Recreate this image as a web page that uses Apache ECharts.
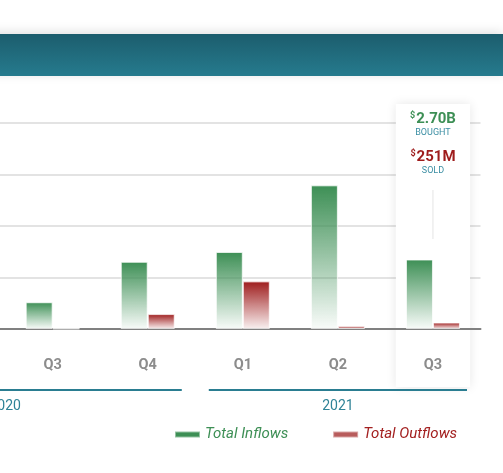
<!DOCTYPE html>
<html><head><meta charset="utf-8">
<script src="https://cdn.jsdelivr.net/npm/echarts@6/dist/echarts.min.js"></script>
<style>html,body{margin:0;padding:0;background:#fff;overflow:hidden;width:503px;height:473px;position:relative}
#c{position:absolute;left:-185px;top:0;width:688px;height:473px}</style>
</head><body><div id="c"></div>
<script>
// Data (values in $ billions); first two quarters of 2020 lie outside the visible area
const quarters = ['Q1','Q2','Q3','Q4','Q1','Q2','Q3'];
const years    = ['2020','2020','2020','2020','2021','2021','2021'];
const inflows  = [null, null, 1.04, 2.61, 2.99, 5.58, 2.70];
const outflows = [null, null, 0.02, 0.58, 1.85, 0.12, 0.251];
const yTicks = {min: 0, max: 8, interval: 2};
const seriesNames = ['Total Inflows', 'Total Outflows'];
const highlightIndex = 6;

const categories = quarters.map((q, i) => years[i] + ' ' + q);
const FONT = 'Roboto';
const GREEN = '#3d8f55', RED = '#9e1c1c', TEAL = '#2a7d91';
const SHIFT = 185; // the chart canvas starts left of the visible page

const chart = echarts.init(document.getElementById('c'), null, {renderer: 'canvas'});
chart.setOption({
  animation: false,
  textStyle: {fontFamily: FONT},
  grid: {left: 0, right: 22.5, top: 123, bottom: 144, containLabel: false},
  xAxis: {
    type: 'category', data: categories, z: 2,
    axisLine: {lineStyle: {color: '#808080', width: 2}},
    axisTick: {show: false},
    axisLabel: {margin: 29, color: '#8c8c8c', fontWeight: 'bold', fontSize: 14.5, fontFamily: FONT,
      formatter: v => v.split(' ')[1]},
    splitLine: {show: false}
  },
  yAxis: {
    type: 'value', min: yTicks.min, max: yTicks.max, interval: yTicks.interval, z: 0,
    axisLabel: {show: false}, axisLine: {show: false}, axisTick: {show: false},
    splitLine: {lineStyle: {color: '#e3e3e3', width: 2}}
  },
  legend: {
    left: 169 + SHIFT, top: 422, itemWidth: 25, itemHeight: 6, itemGap: 44, icon: 'rect',
    textStyle: {fontStyle: 'italic', fontSize: 15, fontFamily: FONT},
    data: [
      {name: seriesNames[0], itemStyle: {color: GREEN}, textStyle: {color: '#3d8f55'}},
      {name: seriesNames[1], itemStyle: {color: '#b85c5c'}, textStyle: {color: '#a32020'}}
    ]
  },
  series: [
    {name: seriesNames[0], type: 'bar', data: inflows, barWidth: 27, barGap: '0%', z: 3,
      itemStyle: {borderColor: 'rgba(255,255,255,0.45)', borderWidth: 1,
        color: new echarts.graphic.LinearGradient(0, 0, 0, 1, [
          {offset: 0, color: '#3d8f55'}, {offset: 1, color: 'rgba(61,143,85,0.03)'}])}},
    {name: seriesNames[1], type: 'bar', data: outflows, barWidth: 27, barGap: '0%', z: 3,
      itemStyle: {borderColor: 'rgba(255,255,255,0.45)', borderWidth: 1,
        color: new echarts.graphic.LinearGradient(0, 0, 0, 1, [
          {offset: 0, color: '#9e1c1c'}, {offset: 1, color: 'rgba(158,28,28,0.06)'}])}}
  ]
});

// Decorations positioned from the chart's own scales
const px = i => chart.convertToPixel({xAxisIndex: 0}, i);
const py = v => chart.convertToPixel({yAxisIndex: 0}, v);
const W = chart.getWidth();
const catW = px(1) - px(0);
const base = py(0), topY = py(yTicks.max);
const g = [];

// header band
g.push({type: 'rect', z: 10, shape: {x: 0, y: 34, width: W, height: 42},
  style: {fill: new echarts.graphic.LinearGradient(0, 0, 0, 1, [
    {offset: 0, color: '#1c5d6d'}, {offset: 1, color: '#267b8e'}]),
    shadowBlur: 10, shadowOffsetY: -2, shadowColor: 'rgba(0,0,0,0.12)'}});

// highlight box
const hx = px(highlightIndex), boxW = catW * 0.78;
g.push({type: 'rect', z: 1, shape: {x: hx - boxW / 2, y: topY - 19, width: boxW, height: base + 58 - (topY - 19)},
  style: {fill: '#fff', shadowBlur: 10, shadowColor: 'rgba(0,0,0,0.10)'}});
const fmtB = v => v.toFixed(2) + 'B';
const fmtM = v => Math.round(v * 1000) + 'M';
g.push({type: 'text', z: 6, x: hx, y: topY - 4,
  style: {text: '{s|$}{v|' + fmtB(inflows[highlightIndex]) + '}', align: 'center', verticalAlign: 'middle',
    rich: {s: {fontSize: 9, fill: GREEN, fontWeight: 'bold', fontFamily: FONT, verticalAlign: 'top', padding: [0, 1, 6, 0]},
           v: {fontSize: 15, fill: GREEN, fontWeight: 'bold', fontFamily: FONT}}}});
g.push({type: 'text', z: 6, x: hx, y: topY + 10,
  style: {text: 'BOUGHT', align: 'center', verticalAlign: 'middle', fontSize: 9, fill: '#3b8ea3', fontFamily: FONT}});
g.push({type: 'text', z: 6, x: hx, y: topY + 34,
  style: {text: '{s|$}{v|' + fmtM(outflows[highlightIndex]) + '}', align: 'center', verticalAlign: 'middle',
    rich: {s: {fontSize: 9, fill: RED, fontWeight: 'bold', fontFamily: FONT, verticalAlign: 'top', padding: [0, 1, 6, 0]},
           v: {fontSize: 15, fill: RED, fontWeight: 'bold', fontFamily: FONT}}}});
g.push({type: 'text', z: 6, x: hx, y: topY + 48,
  style: {text: 'SOLD', align: 'center', verticalAlign: 'middle', fontSize: 9, fill: '#3b8ea3', fontFamily: FONT}});
g.push({type: 'line', z: 6, shape: {x1: hx, y1: topY + 67, x2: hx, y2: topY + 116},
  style: {stroke: '#e4e4e4', lineWidth: 1}});

// year groups
const pad = 13.5;
[...new Set(years)].forEach(yr => {
  const first = years.indexOf(yr), last = years.lastIndexOf(yr);
  const x1 = px(first) - catW / 2 + pad, x2 = px(last) + catW / 2 - pad;
  g.push({type: 'line', z: 6, shape: {x1, y1: base + 61, x2, y2: base + 61},
    style: {stroke: TEAL, lineWidth: 2}});
  g.push({type: 'text', z: 6, x: (x1 + x2) / 2, y: base + 77,
    style: {text: yr, align: 'center', verticalAlign: 'middle', fontSize: 14, fill: '#2f8397', fontFamily: FONT}});
});

chart.setOption({graphic: {elements: g}});
</script>
</body></html>
